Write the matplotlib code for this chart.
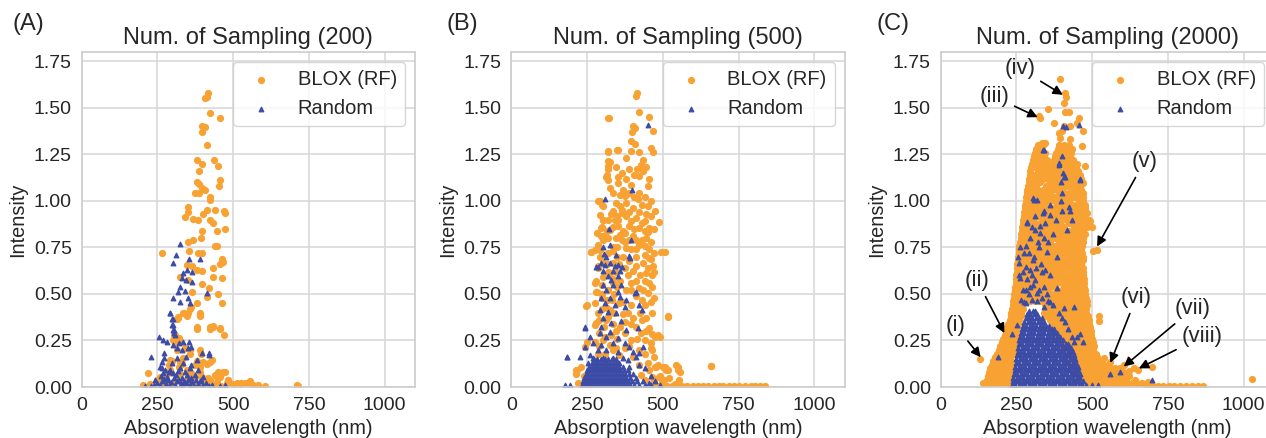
"""Absorption wavelength vs intensity: BLOX (RF) sampling against random sampling."""

import matplotlib

matplotlib.use("Agg")
import matplotlib.pyplot as plt
import numpy as np
from matplotlib.ticker import FormatStrFormatter

ORANGE = "#f7a233"
BLUE = "#3c4ba6"

panel_tags = ["(A)", "(B)", "(C)"]
panel_titles = ["Num. of Sampling (200)", "Num. of Sampling (500)", "Num. of Sampling (2000)"]
x_ticks = [0, 250, 500, 750, 1000]
y_ticks = [0.0, 0.25, 0.5, 0.75, 1.0, 1.25, 1.5, 1.75]

# ---- (A) 200 samples: (wavelength nm, intensity) ----
a_blox = [
    (264, 0.72), (412, 1.56), (418, 1.58), (407, 1.555), (423, 1.47), (456, 1.445), (398, 1.40), (407, 1.395),
    (397, 1.37), (412, 1.30), (379, 1.22), (396, 1.20), (437, 1.22), (450, 1.185), (388, 1.16), (379, 1.10),
    (387, 1.09), (374, 1.04), (386, 1.04), (398, 1.07), (407, 1.06), (456, 1.11), (453, 1.08), (423, 1.02),
    (423, 1.005), (351, 0.966), (351, 0.94), (341, 0.915), (368, 0.905), (385, 0.90), (401, 0.93), (415, 0.95),
    (440, 0.95), (470, 0.946), (472, 0.934), (423, 0.90), (434, 0.88), (445, 0.84), (473, 0.85), (398, 0.84),
    (394, 0.80), (352, 0.78), (368, 0.79), (440, 0.76), (445, 0.757), (385, 0.72), (396, 0.72), (354, 0.73),
    (462, 0.69), (467, 0.67), (458, 0.66), (346, 0.655), (365, 0.65), (379, 0.63), (396, 0.625), (434, 0.64),
    (324, 0.59), (352, 0.575), (432, 0.59), (462, 0.585), (363, 0.51), (396, 0.553), (420, 0.53), (449, 0.50),
    (412, 0.485), (462, 0.45), (379, 0.45), (357, 0.42), (335, 0.40), (352, 0.395), (390, 0.395), (390, 0.38),
    (319, 0.377), (316, 0.363), (379, 0.31), (423, 0.31), (434, 0.32), (456, 0.31), (470, 0.28), (308, 0.28),
    (302, 0.25), (322, 0.25), (313, 0.20), (342, 0.21), (357, 0.18), (393, 0.18), (379, 0.14), (297, 0.14),
    (324, 0.135), (330, 0.126), (401, 0.135), (412, 0.126), (425, 0.135), (390, 0.11), (346, 0.09), (363, 0.072),
    (220, 0.075), (247, 0.036), (225, 0.018), (440, 0.063), (451, 0.072), (467, 0.08), (456, 0.054), (423, 0.036),
    (445, 0.027), (484, 0.036), (478, 0.022), (500, 0.018), (522, 0.018), (538, 0.022), (553, 0.022), (566, 0.009),
    (582, 0.004), (604, 0.004), (714, 0.005), (258, 0.054), (280, 0.072), (291, 0.09), (324, 0.072), (313, 0.036),
    (346, 0.036), (374, 0.054), (396, 0.054), (412, 0.027), (390, 0.388), (379, 0.325), (346, 0.382), (337, 0.40),
    (362, 0.432), (423, 0.321), (434, 0.328), (456, 0.316), (319, 0.37), (304, 0.28), (308, 0.235), (322, 0.262),
    (359, 0.199), (390, 0.199), (429, 0.145), (293, 0.145), (289, 0.118), (335, 0.154), (322, 0.11), (374, 0.118),
    (390, 0.082), (450, 0.082), (462, 0.074), (473, 0.082), (445, 0.055), (417, 0.047), (483, 0.038), (511, 0.023),
    (544, 0.023), (555, 0.03), (582, 0.011), (709, 0.011), (423, 0.018), (396, 0.023), (357, 0.018),
    (302, 0.023), (201, 0.01), (527, 0.02), (270, 0.01), (285, 0.02), (300, 0.005), (330, 0.01), (340, 0.02),
    (360, 0.005), (375, 0.01), (440, 0.01), (460, 0.005),
]
a_random = [
    (326, 0.767), (310, 0.709), (390, 0.69), (354, 0.686), (302, 0.664), (346, 0.628), (335, 0.614), (363, 0.619),
    (330, 0.583), (344, 0.574), (363, 0.566), (324, 0.539), (319, 0.512), (341, 0.517), (412, 0.503), (302, 0.476),
    (324, 0.458), (352, 0.476), (357, 0.449), (291, 0.395), (297, 0.368), (300, 0.332), (302, 0.305), (308, 0.278),
    (293, 0.40), (302, 0.365), (297, 0.334), (303, 0.307), (303, 0.29), (256, 0.268), (269, 0.253), (280, 0.244),
    (322, 0.239), (333, 0.244), (355, 0.244), (302, 0.226), (313, 0.208), (330, 0.199), (352, 0.208), (362, 0.217),
    (396, 0.181), (421, 0.185), (421, 0.172), (228, 0.163), (271, 0.181), (272, 0.154), (313, 0.154), (345, 0.163),
    (379, 0.145), (264, 0.136), (298, 0.127), (335, 0.127), (362, 0.118), (258, 0.11), (265, 0.10), (291, 0.092),
    (324, 0.10), (357, 0.10), (385, 0.092), (269, 0.074), (302, 0.077), (346, 0.065), (374, 0.065), (401, 0.055),
    (242, 0.038), (209, 0.003), (250, 0.02), (258, 0.01), (265, 0.03), (272, 0.045), (278, 0.015), (285, 0.035),
    (290, 0.005), (296, 0.025), (303, 0.05), (308, 0.01), (315, 0.03), (320, 0.04), (327, 0.015), (333, 0.005),
    (338, 0.03), (345, 0.02), (352, 0.04), (358, 0.01), (365, 0.025), (372, 0.005), (378, 0.035), (385, 0.015),
    (392, 0.03), (400, 0.01), (410, 0.02), (420, 0.005), (430, 0.01), (262, 0.06), (282, 0.055), (310, 0.065),
    (330, 0.05), (288, 0.08), (275, 0.09), (318, 0.085), (340, 0.08), (362, 0.05), (395, 0.04), (230, 0.005),
    (240, 0.012), (455, 0.005), (472, 0.01),
]

# ---- (B) 500 samples ----
b_blox = [
    (415, 1.58), (410, 1.563), (321, 1.447), (421, 1.477), (456, 1.45), (401, 1.405), (407, 1.39), (467, 1.375),
    (399, 1.37), (396, 1.32), (407, 1.303), (319, 1.262), (352, 1.272), (396, 1.267), (420, 1.262), (462, 1.285),
    (467, 1.262), (319, 1.213), (380, 1.228), (434, 1.222), (429, 1.195), (443, 1.183), (319, 1.169), (390, 1.172),
    (414, 1.169), (311, 1.129), (352, 1.129), (423, 1.133), (454, 1.115), (352, 1.097), (380, 1.115), (396, 1.088),
    (451, 1.082), (325, 1.07), (374, 1.025), (358, 1.03), (292, 0.998), (423, 1.043), (418, 1.01), (303, 0.971),
    (336, 0.944), (358, 0.971), (401, 0.962), (451, 0.975), (473, 0.944), (303, 0.899), (341, 0.899), (380, 0.917),
    (413, 0.908), (440, 0.89), (489, 0.885), (297, 0.854), (352, 0.863), (390, 0.863), (423, 0.854), (456, 0.854),
    (297, 0.81), (358, 0.818), (401, 0.81), (264, 0.725), (292, 0.738), (336, 0.729), (380, 0.747), (423, 0.765),
    (440, 0.756), (456, 0.693), (506, 0.723), (495, 0.723), (413, 0.79), (445, 0.80), (303, 0.81), (451, 0.834),
    (286, 0.648), (390, 0.675), (434, 0.666), (467, 0.648), (401, 0.621), (445, 0.612), (281, 0.567), (396, 0.558),
    (456, 0.558), (423, 0.531), (281, 0.513), (451, 0.505), (380, 0.522), (369, 0.459), (462, 0.459), (248, 0.436),
    (325, 0.415), (385, 0.397), (401, 0.37), (516, 0.379), (445, 0.37), (314, 0.361), (281, 0.343), (358, 0.325),
    (413, 0.325), (456, 0.316), (330, 0.28), (429, 0.289), (473, 0.271), (484, 0.28), (303, 0.253), (396, 0.253),
    (462, 0.235), (325, 0.226), (374, 0.208), (462, 0.208), (336, 0.199), (215, 0.092), (231, 0.11), (478, 0.11),
    (500, 0.11), (511, 0.092), (544, 0.118), (550, 0.092), (659, 0.113), (456, 0.092), (429, 0.065), (489, 0.055),
    (522, 0.047), (555, 0.038), (287, 1.0), (298, 0.98), (293, 0.925), (304, 0.90), (298, 0.86), (282, 0.826),
    (304, 0.79), (287, 0.763), (263, 0.724), (276, 0.736), (293, 0.70), (304, 0.664), (287, 0.637), (304, 0.592),
    (276, 0.557), (282, 0.512), (298, 0.476), (276, 0.449), (249, 0.44), (276, 0.332), (287, 0.395), (320, 0.377),
    (315, 0.422), (331, 0.467), (320, 0.52), (337, 0.557), (326, 0.61), (337, 0.664), (364, 0.79), (375, 0.826),
    (320, 0.90), (326, 0.844), (337, 0.754), (353, 0.898), (364, 0.934), (337, 1.04), (320, 1.113), (315, 1.14),
    (320, 1.185), (326, 1.21), (320, 1.266), (348, 1.275), (320, 1.445), (249, 0.242), (243, 0.215), (216, 0.09),
    (214, 0.072), (221, 0.022), (463, 0.287), (490, 0.27), (463, 0.197), (517, 0.377), (474, 0.108), (485, 0.117),
    (507, 0.108), (517, 0.09), (550, 0.108), (556, 0.081), (660, 0.111), (496, 0.027), (539, 0.018), (463, 0.054),
    (345, 1.18), (365, 1.15), (405, 1.14), (435, 1.16), (370, 1.06), (390, 1.04), (405, 1.02), (440, 1.02),
    (460, 1.0), (345, 0.99), (380, 0.99), (430, 0.98), (365, 0.95), (390, 0.94), (420, 0.94), (445, 0.93),
    (460, 0.92), (330, 0.93), (350, 0.92), (395, 0.89), (430, 0.88), (470, 0.85), (315, 0.84), (335, 0.86),
    (370, 0.84), (405, 0.85), (440, 0.84), (320, 0.80), (345, 0.80), (375, 0.78), (390, 0.79), (430, 0.79),
    (460, 0.78), (350, 0.75), (395, 0.74), (410, 0.74), (455, 0.74), (470, 0.72), (320, 0.72), (350, 0.70),
    (370, 0.70), (410, 0.70), (440, 0.71), (460, 0.69), (315, 0.66), (355, 0.66), (375, 0.64), (410, 0.65),
    (450, 0.64), (470, 0.62), (320, 0.62), (345, 0.62), (385, 0.60), (425, 0.60), (465, 0.60), (335, 0.58),
    (360, 0.57), (410, 0.57), (440, 0.57), (300, 0.55), (350, 0.54), (395, 0.52), (435, 0.52), (465, 0.54),
    (300, 0.50), (340, 0.50), (410, 0.49), (430, 0.47), (470, 0.48), (315, 0.47), (355, 0.45), (395, 0.44),
    (440, 0.44), (300, 0.42), (340, 0.40), (370, 0.39), (425, 0.40), (465, 0.40), (290, 0.36), (335, 0.34),
    (375, 0.35), (395, 0.34), (430, 0.36), (305, 0.32), (345, 0.30), (375, 0.29), (445, 0.30), (290, 0.29),
    (310, 0.27), (350, 0.26), (415, 0.26), (440, 0.25), (275, 0.24), (290, 0.22), (345, 0.21), (390, 0.22),
    (420, 0.20), (440, 0.18), (470, 0.16), (285, 0.18), (310, 0.18), (355, 0.17), (400, 0.16), (450, 0.13),
    (420, 0.12), (490, 0.06), (505, 0.04), (440, 0.04), (470, 0.03), (240, 0.06), (250, 0.03), (235, 0.01),
    (470, 0.005), (485, 0.005), (500, 0.005), (515, 0.005), (530, 0.005), (548, 0.005), (565, 0.005), (580, 0.005),
    (600, 0.005), (615, 0.005), (632, 0.005), (650, 0.005), (668, 0.005), (685, 0.005), (700, 0.005), (718, 0.005),
    (735, 0.005), (752, 0.005), (770, 0.005), (790, 0.005), (805, 0.005), (822, 0.005), (838, 0.005),
]
b_random = [
    (325, 0.765), (305, 0.716), (314, 0.70), (347, 0.707), (390, 0.702), (297, 0.666), (308, 0.657), (325, 0.666),
    (341, 0.648), (352, 0.657), (358, 0.621), (303, 0.621), (336, 0.621), (319, 0.594), (352, 0.594), (330, 0.576),
    (303, 0.549), (336, 0.549), (363, 0.549), (314, 0.522), (352, 0.513), (413, 0.513), (297, 0.478), (325, 0.478),
    (358, 0.486), (380, 0.468), (308, 0.451), (341, 0.442), (374, 0.432), (292, 0.415), (319, 0.405), (347, 0.397),
    (423, 0.44), (242, 0.316), (303, 0.37), (297, 0.325), (330, 0.343), (363, 0.352), (292, 0.289), (325, 0.298),
    (380, 0.307), (418, 0.316), (259, 0.271), (314, 0.271), (352, 0.262), (270, 0.235), (297, 0.226), (336, 0.235),
    (374, 0.235), (390, 0.217), (434, 0.217), (242, 0.217), (286, 0.199), (314, 0.199), (352, 0.19), (401, 0.19),
    (423, 0.181), (184, 0.163), (228, 0.163), (259, 0.172), (270, 0.154), (303, 0.154), (336, 0.154), (369, 0.154),
    (385, 0.145), (413, 0.163), (253, 0.127), (281, 0.127), (314, 0.127), (352, 0.118), (390, 0.11), (423, 0.118),
    (451, 1.407), (399, 1.061), (310, 1.01), (322, 0.851), (395, 0.79), (304, 0.754), (391, 0.691), (287, 0.646),
    (281, 0.646), (364, 0.646), (408, 0.503), (430, 0.413), (243, 0.323), (183, 0.162), (178, 0.009), (194, 0.009),
    (440, 0.10), (460, 0.06), (475, 0.03), (490, 0.01), (455, 0.02),
]
# dense blob at the bottom of (B), read row by row: (intensity, wavelengths)
b_random_rows = [
    (0.01, [232, 242, 252, 262, 272, 282, 292, 302, 312, 322, 332, 342, 352, 362, 372, 382, 392, 405, 420, 440, 462]),
    (0.03, [236, 246, 256, 266, 276, 286, 296, 306, 316, 326, 336, 346, 356, 366, 376, 386, 398, 415, 435]),
    (0.05, [240, 250, 260, 270, 280, 290, 300, 310, 320, 330, 340, 350, 360, 370, 380, 392, 410]),
    (0.07, [245, 255, 265, 275, 285, 295, 305, 315, 325, 335, 345, 355, 365, 375, 388, 402]),
    (0.09, [250, 260, 270, 280, 290, 300, 310, 320, 330, 340, 350, 360, 372, 385]),
    (0.11, [257, 267, 277, 287, 297, 307, 317, 327, 337, 347, 357, 368]),
    (0.13, [265, 275, 285, 295, 305, 315, 325, 335, 345, 355]),
    (0.15, [272, 284, 296, 308, 320, 332, 344]),
]

# ---- (C) 2000 samples: the dense orange mass read row by row ----
c_blox_rows = [
    (1.30, [320, 336, 390, 406, 422]),
    (1.26, [312, 328, 344, 382, 398, 414, 430]),
    (1.22, [304, 320, 336, 352, 374, 390, 406, 422, 438]),
    (1.18, [298, 312, 328, 344, 366, 382, 414, 430, 446]),
    (1.14, [294, 304, 320, 336, 352, 368, 384, 400, 416, 432, 448, 460]),
    (1.10, [290, 312, 328, 360, 376, 392, 408, 424, 440, 456, 466]),
    (1.06, [286, 304, 320, 336, 352, 368, 384, 400, 432, 448, 464]),
    (1.02, [282, 296, 312, 328, 344, 360, 376, 392, 408, 424, 440, 456, 468]),
    (0.98, [279, 288, 304, 320, 336, 352, 384, 400, 416, 432, 448, 464, 475]),
    (0.94, [276, 296, 312, 328, 344, 360, 376, 392, 408, 424, 440, 456, 472]),
    (0.90, [273, 288, 304, 336, 352, 368, 384, 400, 416, 432, 448, 464, 480, 490]),
    (0.86, [269, 280, 296, 312, 328, 344, 360, 376, 392, 408, 440, 456, 472, 482, 500]),
    (0.82, [265, 272, 288, 304, 320, 336, 352, 368, 384, 400, 416, 432, 448, 464, 477]),
    (0.78, [262, 280, 296, 312, 328, 344, 360, 392, 408, 424, 440, 456, 468]),
    (0.74, [259, 272, 288, 304, 320, 336, 352, 368, 384, 400, 416, 432, 448, 462]),
    (0.70, [256, 264, 280, 296, 312, 328, 344, 360, 376, 392, 424, 440, 456, 468]),
    (0.66, [253, 272, 288, 304, 320, 336, 352, 368, 384, 400, 416, 432, 448, 464]),
    (0.62, [251, 264, 280, 296, 312, 328, 344, 360, 376, 392, 408, 440, 456, 468]),
    (0.58, [248, 256, 272, 288, 304, 320, 336, 352, 368, 384, 400, 416, 432, 448, 464, 474]),
    (0.54, [246, 264, 280, 296, 312, 328, 344, 360, 376, 408, 424, 440, 456, 472]),
    (0.50, [243, 256, 272, 288, 304, 320, 336, 352, 368, 384, 400, 416, 432, 448, 464, 476]),
    (0.46, [239, 248, 264, 280, 296, 312, 328, 344, 360, 376, 392, 408, 424, 440, 456, 472, 482]),
    (0.42, [235, 256, 272, 352, 368, 384, 400, 416, 432, 448, 464, 480]),
    (0.38, [231, 248, 264, 344, 360, 376, 392, 408, 424, 440, 456, 472, 486]),
    (0.34, [225, 240, 256, 368, 384, 400, 416, 432, 448, 464, 480, 490]),
    (0.30, [216, 232, 248, 376, 392, 408, 424, 440, 456, 472, 488, 496]),
    (0.26, [206, 224, 240, 256, 392, 408, 424, 440, 456, 472, 488, 500]),
    (0.22, [197, 216, 232, 248, 400, 416, 432, 448, 464, 480, 496, 506]),
    (0.18, [186, 208, 224, 240, 416, 432, 448, 464, 480, 496, 512]),
    (0.14, [174, 184, 200, 216, 232, 424, 440, 456, 472, 488, 504, 520, 532]),
    (0.10, [163, 176, 192, 208, 224, 240, 432, 448, 464, 480, 496, 512, 528, 544, 560, 576]),
    (0.06, [156, 168, 184, 200, 216, 232, 448, 464, 480, 496, 512, 528, 544, 560, 576, 592, 608, 622]),
    (0.02, [150, 160, 176, 192, 208, 224, 240, 456, 472, 488, 504, 520, 536, 552, 568, 584, 600, 616, 632, 648,
            665]),
    (0.005, [680, 700, 718, 735, 752, 770, 790, 808, 828, 848, 866]),
]
# the in-between rows of the same mass
c_blox_rows_mid = [
    (1.28, [316, 332, 386, 402, 418, 434]),
    (1.24, [308, 324, 340, 378, 394, 410, 426]),
    (1.20, [302, 318, 334, 350, 370, 386, 402, 418, 434, 450]),
    (1.16, [296, 320, 336, 352, 374, 390, 406, 422, 438, 454]),
    (1.12, [292, 306, 322, 338, 354, 370, 386, 402, 418, 434, 450, 464]),
    (1.08, [288, 300, 316, 348, 364, 380, 396, 412, 428, 444, 460]),
    (1.04, [284, 296, 312, 328, 344, 360, 392, 408, 424, 440, 456, 468]),
    (1.00, [281, 296, 312, 328, 344, 360, 376, 392, 408, 424, 456, 470]),
    (0.96, [278, 288, 304, 320, 336, 352, 368, 384, 400, 416, 432, 448, 464, 475]),
    (0.92, [275, 288, 304, 320, 344, 360, 376, 392, 408, 424, 440, 456, 472]),
    (0.88, [271, 280, 296, 312, 328, 344, 360, 376, 392, 424, 440, 456, 472, 486]),
    (0.84, [267, 280, 296, 312, 328, 344, 360, 376, 392, 408, 424, 440, 456, 470]),
    (0.80, [264, 280, 296, 312, 328, 344, 360, 376, 392, 408, 424, 440, 456, 470]),
    (0.76, [260, 280, 296, 312, 344, 360, 376, 392, 408, 424, 440, 456, 466]),
    (0.72, [257, 264, 280, 296, 312, 328, 344, 360, 376, 392, 408, 424, 440, 456, 466]),
    (0.68, [254, 264, 280, 296, 312, 328, 344, 360, 376, 392, 408, 424, 440, 456, 468]),
    (0.64, [252, 264, 280, 296, 328, 344, 360, 376, 392, 408, 424, 440, 456, 468]),
    (0.60, [249, 264, 280, 296, 312, 328, 344, 360, 376, 392, 408, 424, 440, 456, 470]),
    (0.56, [247, 256, 272, 288, 304, 320, 336, 352, 368, 384, 400, 416, 432, 448, 464, 474]),
    (0.52, [244, 256, 272, 288, 304, 320, 336, 352, 384, 400, 416, 432, 448, 464, 476]),
    (0.48, [241, 256, 272, 288, 304, 320, 336, 352, 368, 384, 400, 416, 432, 448, 464, 478]),
    (0.44, [237, 248, 264, 344, 360, 376, 392, 408, 424, 440, 456, 472, 482]),
    (0.40, [233, 248, 264, 340, 352, 368, 384, 400, 416, 432, 448, 464, 480]),
    (0.36, [228, 244, 260, 360, 376, 392, 408, 424, 440, 456, 472, 488]),
    (0.32, [220, 236, 252, 372, 388, 404, 420, 436, 452, 468, 484, 494]),
    (0.28, [211, 228, 244, 384, 400, 416, 432, 448, 464, 480, 496]),
    (0.24, [202, 220, 236, 252, 396, 412, 428, 444, 460, 476, 492, 502]),
    (0.20, [192, 212, 228, 244, 408, 424, 440, 456, 472, 488, 504]),
    (0.16, [180, 196, 212, 228, 420, 436, 452, 468, 484, 500, 516]),
    (0.12, [168, 184, 200, 216, 232, 428, 444, 460, 476, 492, 508, 524, 540, 556]),
    (0.08, [160, 176, 192, 208, 224, 240, 440, 456, 472, 488, 504, 520, 536, 552, 568, 584, 600]),
    (0.04, [152, 168, 184, 200, 216, 232, 450, 466, 482, 498, 514, 530, 546, 562, 578, 594, 610, 640]),
]
c_blox = [
    (393, 1.657), (411, 1.58), (414, 1.558), (406, 1.526), (353, 1.495), (329, 1.445), (323, 1.454), (375, 1.42),
    (411, 1.48), (423, 1.48), (458, 1.445), (469, 1.373), (450, 1.418), (428, 1.40), (406, 1.40), (400, 1.373),
    (345, 1.31), (334, 1.31), (389, 1.364), (395, 1.337), (428, 1.33), (466, 1.294), (471, 1.097), (477, 1.19),
    (483, 0.935), (494, 0.89), (504, 0.729), (516, 0.735), (521, 0.379), (521, 0.355), (483, 0.307),
    (130, 0.149), (207, 0.253), (229, 0.199), (169, 0.10), (185, 0.127), (196, 0.074), (161, 0.038), (141, 0.02),
    (235, 0.325), (223, 0.34), (262, 0.432), (295, 0.558), (538, 0.155), (560, 0.137), (604, 0.118), (637, 0.10),
    (697, 0.11), (1026, 0.041), (592, 0.10), (555, 0.10), (650, 0.09), (620, 0.085), (685, 0.025),
]
c_random_rows = [
    (0.01, [235, 246, 257, 268, 279, 290, 301, 312, 323, 334, 345, 356, 367, 378, 389, 400, 411, 422, 433, 444, 455,
            466, 480, 500, 520]),
    (0.03, [238, 249, 260, 271, 282, 293, 304, 315, 326, 337, 348, 359, 370, 381, 392, 403, 414, 425, 436, 447, 458,
            468]),
    (0.05, [240, 251, 262, 273, 284, 295, 306, 317, 328, 339, 350, 361, 372, 383, 394, 405, 416, 427, 438, 449, 460]),
    (0.07, [242, 253, 264, 275, 286, 297, 308, 319, 330, 341, 352, 363, 374, 385, 396, 407, 418, 429, 440, 451, 460]),
    (0.09, [244, 255, 266, 277, 288, 299, 310, 321, 332, 343, 354, 365, 376, 387, 398, 409, 420, 431, 442, 453]),
    (0.11, [246, 257, 268, 279, 290, 301, 312, 323, 334, 345, 356, 367, 378, 389, 400, 411, 422, 433, 444, 452]),
    (0.13, [248, 259, 270, 281, 292, 303, 314, 325, 336, 347, 358, 369, 380, 391, 402, 413, 424, 435, 446]),
    (0.15, [250, 261, 272, 283, 294, 305, 316, 327, 338, 349, 360, 371, 382, 393, 404, 415, 426, 437, 444]),
    (0.17, [252, 263, 274, 285, 296, 307, 318, 329, 340, 351, 362, 373, 384, 395, 406, 417, 428, 440]),
    (0.19, [254, 265, 276, 287, 298, 309, 320, 331, 342, 353, 364, 375, 386, 397, 408, 419, 430, 438]),
    (0.21, [256, 267, 278, 289, 300, 311, 322, 333, 344, 355, 366, 377, 388, 399, 410, 421, 430]),
    (0.23, [258, 269, 280, 291, 302, 313, 324, 335, 346, 357, 368, 379, 390, 401, 412, 420]),
    (0.25, [260, 271, 282, 293, 304, 315, 326, 337, 348, 359, 370, 381, 392, 405]),
    (0.27, [262, 273, 284, 295, 306, 317, 328, 339, 350, 361, 372, 383, 395]),
    (0.29, [265, 276, 287, 298, 309, 320, 331, 342, 353, 364, 375, 385]),
    (0.31, [268, 279, 290, 301, 312, 323, 334, 345, 356, 367, 375]),
    (0.33, [272, 283, 294, 305, 316, 327, 338, 349, 358]),
    (0.35, [276, 287, 298, 309, 320, 331, 342]),
    (0.37, [280, 291, 302, 313, 324, 334]),
    (0.39, [285, 296, 307, 318]),
    (0.41, [292, 303, 312]),
]
c_random = [
    (405, 1.402), (413, 1.397), (457, 1.407), (339, 1.276), (400, 1.24), (389, 1.192), (402, 1.151), (411, 1.129),
    (460, 1.115), (397, 1.10), (306, 1.016), (317, 1.007), (398, 0.998), (425, 0.968), (339, 0.935), (400, 0.944),
    (286, 0.881), (328, 0.863), (433, 0.899), (340, 1.275), (389, 1.203), (406, 1.131), (461, 1.113), (400, 1.041),
    (307, 1.005), (340, 0.943), (428, 0.943), (362, 0.925), (285, 0.889), (312, 0.844), (329, 0.826), (417, 0.844),
    (263, 0.754), (274, 0.718), (323, 0.754), (351, 0.727), (384, 0.70), (307, 0.70), (258, 0.664), (280, 0.646),
    (296, 0.628), (334, 0.619), (362, 0.601), (263, 0.583), (312, 0.574), (296, 0.539), (340, 0.539), (384, 0.53),
    (280, 0.521), (318, 0.503), (274, 0.458), (362, 0.458), (340, 0.431), (406, 0.422), (439, 0.431), (461, 0.287),
    (190, 0.163), (450, 0.27), (471, 0.242), (559, 0.072), (696, 0.036), (592, 0.081), (252, 0.332), (236, 0.287),
    (258, 0.60), (270, 0.62), (285, 0.58), (300, 0.60), (315, 0.64), (330, 0.66), (345, 0.63), (270, 0.52),
    (290, 0.50), (305, 0.55), (325, 0.52), (350, 0.50), (265, 0.47), (282, 0.45), (300, 0.47), (318, 0.46),
    (335, 0.48), (355, 0.46), (372, 0.44), (390, 0.40), (400, 0.37), (410, 0.35), (420, 0.31), (432, 0.27),
    (440, 0.24), (255, 0.70), (290, 0.72), (305, 0.68), (320, 0.78), (340, 0.80), (280, 0.76), (295, 0.80),
    (355, 0.78), (372, 0.82), (300, 0.86), (345, 0.88), (310, 0.92), (360, 0.98), (380, 0.90),
]
# labelled candidates in (C): (label, text position, arrow target)
c_notes = [
    ("(i)", (49, 0.33), (132, 0.16)),
    ("(ii)", (121, 0.57), (210, 0.29)),
    ("(iii)", (177, 1.56), (320, 1.45)),
    ("(iv)", (262, 1.71), (403, 1.57)),
    ("(v)", (672, 1.21), (516, 0.755)),
    ("(vi)", (645, 0.48), (560, 0.13)),
    ("(vii)", (832, 0.42), (604, 0.11)),
    ("(viii)", (862, 0.27), (654, 0.10)),
]


def _pairs(points):
    arr = np.asarray(points, dtype=float)
    return arr[:, 0], arr[:, 1]


def _rows(rows):
    xs = [x for _, row in rows for x in row]
    ys = [y for y, row in rows for _ in row]
    return np.asarray(xs, dtype=float), np.asarray(ys, dtype=float)


def _join(*parts):
    return np.concatenate([p[0] for p in parts]), np.concatenate([p[1] for p in parts])


plt.rcParams.update({
    "font.family": ["Liberation Sans", "DejaVu Sans"],
    "text.color": "#262626",
    "axes.labelcolor": "#262626",
    "xtick.color": "#262626",
    "ytick.color": "#262626",
    "axes.edgecolor": "#cccccc",
    "axes.linewidth": 1.2,
    "grid.color": "#d9d9d9",
    "grid.linewidth": 1.2,
})

series = [
    (_pairs(a_blox), _pairs(a_random)),
    (_pairs(b_blox), _join(_pairs(b_random), _rows(b_random_rows))),
    (
        _join(_rows(c_blox_rows), _rows(c_blox_rows_mid), _pairs(c_blox)),
        _join(_rows(c_random_rows), _pairs(c_random)),
    ),
]

W, H = 1266, 438
fig = plt.figure(figsize=(W / 100, H / 100), dpi=100)
lefts = [81.7, 511.3, 940.7]
tag_x = [13, 447, 876]

for i, ((bx, by), (rx, ry)) in enumerate(series):
    ax = fig.add_axes([lefts[i] / W, 1 - 387 / H, 333.3 / W, 335 / H])
    ax.set_axisbelow(True)
    ax.grid(True)
    ax.scatter(bx, by, s=27, marker="o", color=ORANGE, linewidths=0, label="BLOX (RF)")
    ax.scatter(rx, ry, s=11, marker="^", color=BLUE, edgecolors=BLUE, linewidths=0.9, label="Random")
    ax.set_xlim(0, 1100)
    ax.set_ylim(0, 1.8)
    ax.set_xticks(x_ticks)
    ax.set_yticks(y_ticks)
    ax.yaxis.set_major_formatter(FormatStrFormatter("%.2f"))
    ax.tick_params(length=0, labelsize=14, pad=7)
    ax.set_xlabel("Absorption wavelength (nm)", fontsize=14.3, labelpad=4)
    ax.set_ylabel("Intensity", fontsize=14.3, labelpad=5)
    ax.set_title(panel_titles[i], fontsize=17, pad=6)
    leg = ax.legend(loc="upper right", fontsize=14.5, frameon=True, scatterpoints=1)
    leg.get_frame().set_edgecolor("#cccccc")
    fig.text(tag_x[i] / W, 1 - 24 / H, panel_tags[i], fontsize=17, ha="left", va="center")

    if i == 2:
        for label, text_xy, target in c_notes:
            ax.annotate(
                label,
                xy=target,
                xytext=text_xy,
                fontsize=16,
                ha="center",
                va="center",
                arrowprops=dict(arrowstyle="-|>", color="black", lw=1.2, mutation_scale=14, shrinkA=2, shrinkB=0),
            )

fig.savefig("out.png", dpi=100)
